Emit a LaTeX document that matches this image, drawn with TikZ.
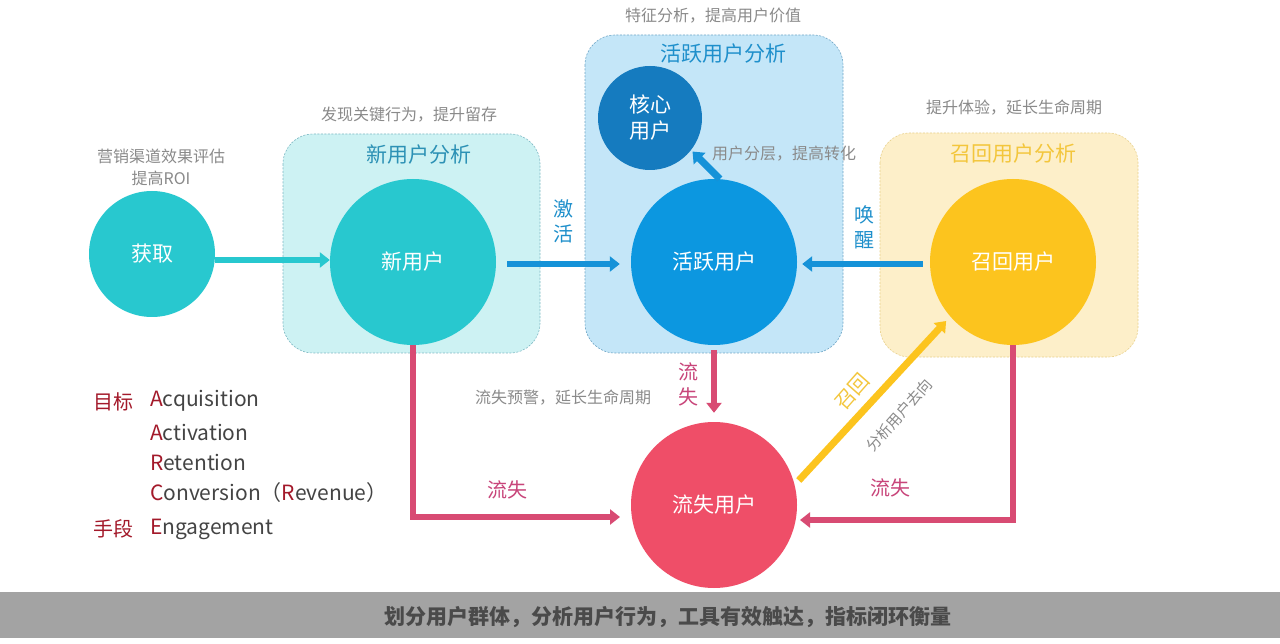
\documentclass[tikz,border=0pt]{standalone}
\usepackage{fontspec}
\setmainfont{Noto Sans CJK SC}
\usetikzlibrary{arrows.meta}
\definecolor{tealc}{HTML}{28C8CF}
\definecolor{tealbox}{HTML}{CDF2F3}
\definecolor{tealedge}{HTML}{7FB9C4}
\definecolor{bluebox}{HTML}{C4E6F8}
\definecolor{blueedge}{HTML}{6FA6C6}
\definecolor{corec}{HTML}{157BBF}
\definecolor{activec}{HTML}{0C97E0}
\definecolor{bluearr}{HTML}{1592D8}
\definecolor{yelbox}{HTML}{FDEFC9}
\definecolor{yeledge}{HTML}{E8D08A}
\definecolor{yelc}{HTML}{FCC41E}
\definecolor{yeltitle}{HTML}{F3C63C}
\definecolor{pinkarr}{HTML}{D84B73}
\definecolor{lostc}{HTML}{EF4E68}
\definecolor{pinktxt}{HTML}{C8457A}
\definecolor{graytxt}{HTML}{8A8A8A}
\definecolor{title1}{HTML}{2C91B5}
\definecolor{title2}{HTML}{1E8FCB}
\definecolor{barc}{HTML}{A3A3A3}
\definecolor{bartxt}{HTML}{4A4A4A}
\definecolor{legred}{HTML}{A3192A}
\definecolor{legtxt}{HTML}{444444}
\tikzset{
  circ/.style={circle,inner sep=0pt,minimum size=#1,text=white,font=\fontsize{21}{26}\selectfont,align=center},
  grpbox/.style={rounded corners=30pt,line width=0.6pt,dash pattern=on 2pt off 1.5pt},
  note/.style={text=graytxt,font=\fontsize{16}{22}\selectfont,inner sep=0pt,align=center},
  grptitle/.style={font=\fontsize{21}{24}\selectfont,inner sep=0pt},
  arr/.style={line width=6pt,-{Triangle[length=10pt,width=15pt]}},
  vlab/.style={font=\fontsize{20}{25}\selectfont,inner sep=0pt,align=center},
  leg/.style={font=\fontsize{21}{24}\selectfont,inner sep=0pt,anchor=west,text=legtxt},
  legh/.style={font=\fontsize{20}{24}\selectfont,inner sep=0pt,anchor=west,text=legred}
}
\newcommand{\R}[1]{\textcolor{legred}{#1}}
\begin{document}
\begin{tikzpicture}[x=1pt,y=-1pt]
\useasboundingbox (0,0) rectangle (1280,644);
\fill[white] (0,0) rectangle (1280,644);
% bottom bar
\fill[barc] (0,592) rectangle (1280,638);
\node[text=bartxt,font=\fontsize{21}{24}\selectfont\bfseries,inner sep=0pt] (bottom) at (668,617) {划分用户群体，分析用户行为，工具有效触达，指标闭环衡量};

% group boxes
\filldraw[grpbox,fill=tealbox,draw=tealedge] (283,134) rectangle (540,353);
\filldraw[grpbox,fill=bluebox,draw=blueedge] (585,35) rectangle (843,353);
\filldraw[grpbox,fill=yelbox,draw=yeledge] (880,133) rectangle (1138,357);

\node[grptitle,text=title1] (t1) at (419,155) {新用户分析};
\node[grptitle,text=title2] (t2) at (723,54) {活跃用户分析};
\node[grptitle,text=yeltitle] (t3) at (1013,154) {召回用户分析};

% notes
\node[note] (n0) at (161,167) {营销渠道效果评估\\提高ROI};
\node[note] (n1) at (409,115) {发现关键行为，提升留存};
\node[note] (n2) at (713,16) {特征分析，提高用户价值};
\node[note] (n3) at (1014,108) {提升体验，延长生命周期};
\node[note] (n4) at (784,154) {用户分层，提高转化};
\node[note] (n5) at (563,398) {流失预警，延长生命周期};

% circles
\node[circ=126pt,fill=tealc] (huoqu) at (152,254) {获取};
\node[circ=166pt,fill=tealc] (xin) at (413,262) {新用户};
\node[circ=104pt,fill=corec] (core) at (650,118) {核心\\用户};
\node[circ=166pt,fill=activec] (huoyue) at (714,262) {活跃用户};
\node[circ=166pt,fill=yelc] (zhaohui) at (1013,262) {召回用户};
\node[circ=166pt,fill=lostc] (liushi) at (714,505) {流失用户};

% blue / teal arrows
\draw[arr,draw=tealc] ([yshift=-6pt]huoqu.east) -- ([yshift=2pt]xin.west);
\draw[arr,draw=bluearr,shorten <=11pt,shorten >=11pt] ([yshift=-2pt]xin.east) -- ([yshift=-2pt]huoyue.west);
\draw[arr,draw=bluearr,shorten <=7pt,shorten >=5pt] ([yshift=-2pt]zhaohui.west) -- ([yshift=-2pt]huoyue.east);
\draw[line width=7pt,draw=bluearr,-{Triangle[length=10pt,width=16pt]},shorten >=2pt] (huoyue.86) -- (core.-38);
\node[vlab,text=title2] (jihuo) at (563,221.5) {激\\活};
\node[vlab,text=title2] (huanxing) at (864,227.5) {唤\\醒};

% pink arrows
\coordinate (c1) at (413,517);
\coordinate (c1e) at (620,517);
\coordinate (c2) at (1013,520);
\coordinate (c2e) at (800,520);
\draw[line width=6pt,draw=pinkarr,-{Triangle[length=10pt,width=15pt]}] (xin.south) -- (c1) -- (c1e);
\draw[line width=6pt,draw=pinkarr,-{Triangle[length=10pt,width=15pt]}] (zhaohui.south) -- (c2) -- (c2e);
\draw[arr,draw=pinkarr,shorten <=5pt,shorten >=9pt] (huoyue.south) -- (liushi.north);
\node[vlab,text=pinktxt] (l1) at (507,490) {流失};
\node[vlab,text=pinktxt] (l2) at (890,488) {流失};
\node[vlab,text=pinktxt] (l3) at (688,384) {流\\失};

% yellow recall arrow
\draw[line width=7pt,draw=yelc,-{Triangle[length=10pt,width=15pt]},shorten <=6pt,shorten >=6pt] (liushi.14) -- (zhaohui.221);
\node[vlab,text=yeltitle,rotate=48.5] (zh) at (852,392) {召回};
\node[note,font=\fontsize{15}{20}\selectfont,rotate=48.5] (fx) at (899,415) {分析用户去向};

% legend
\node[legh] (g1) at (93,402) {目标};
\node[leg] (a1) at (150,401) {\R{A}cquisition};
\node[leg] (a2) at (150,432) {\R{A}ctivation};
\node[leg] (a3) at (150,462) {\R{R}etention};
\node[leg] (a4) at (150,493) {\R{C}onversion（\R{R}evenue）};
\node[legh] (g2) at (93,529) {手段};
\node[leg] (a5) at (150,529) {\R{E}ngagement};
\end{tikzpicture}
\end{document}
